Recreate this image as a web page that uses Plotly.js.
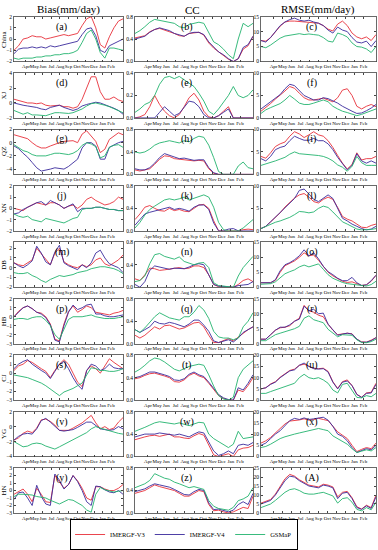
<!DOCTYPE html>
<html><head><meta charset="utf-8">
<script src="https://cdn.plot.ly/plotly-3.0.1.min.js"></script>
<style>html,body{margin:0;padding:0;background:#fff}#chart{width:378px;height:550px}</style>
</head><body><div id="chart"></div>
<script>
const months = ['Apr','May','Jun','Jul','Aug','Sep','Oct','Nov','Dec','Jan','Feb'];
const regions = ['China','XJ','QZ','XN','DB','HB','CJ','YG','HN'];
const metricTitles = ['Bias(mm/day)','CC','RMSE(mm/day)'];
const panelLetters = ['a','b','c','d','e','f','g','h','i','j','k','l','m','n','o','p','q','r','s','t','u','v','w','x','y','z','A'];
const seriesNames = ['IMERGF-V3','IMERGF-V4','GSMaP'];

// ---- Bias (mm/day) ----
const bias_China_V3 = [-1.0,-0.6,0.0,0.1,0.3,0.2,0.2,0.0,0.1,0.2,0.3,0.4,0.3,0.4,0.5,1.2,1.8,2.0,1.0,-0.5,-0.8,0.2,1.0,1.6,1.8];
const bias_China_V4 = [-1.3,-0.9,-0.8,-0.8,-0.7,-0.8,-0.7,-0.8,-0.6,-0.7,-0.6,-0.5,-0.4,-0.3,-0.2,0.4,0.9,1.0,0.3,-1.0,-1.2,-0.6,-0.4,-0.2,0.0];
const bias_China_GS = [-1.7,-1.8,-1.7,-1.7,-1.7,-1.6,-1.6,-1.5,-1.5,-1.4,-1.4,-1.3,-1.3,-1.2,-1.0,-0.3,0.5,0.8,0.0,-1.2,-1.7,-0.8,-0.8,-0.9,-1.0];
const bias_XJ_V3 = [0.5,0.3,0.2,0.0,0.0,-0.1,0.0,-0.3,-0.4,-0.4,-0.3,-0.5,-0.5,-0.7,-0.5,0.5,2.0,3.5,3.5,1.5,0.5,0.5,0.8,0.4,0.2];
const bias_XJ_V4 = [0.0,-0.2,-0.3,-0.4,-0.5,-0.6,-0.8,-0.9,-0.6,-0.4,-0.3,-0.6,-0.8,-1.0,-0.8,-0.4,-0.2,0.0,0.1,0.0,-0.2,-0.4,-0.7,-1.0,-1.5];
const bias_XJ_GS = [-1.0,-1.3,-1.5,-1.3,-1.6,-1.6,-1.7,-1.7,-1.5,-1.3,-1.3,-1.4,-1.4,-1.3,-1.1,-0.8,-0.4,-0.1,0.0,-0.1,-0.3,-0.5,-0.8,-1.0,-1.3];
const bias_QZ_V3 = [1.2,1.0,0.9,0.6,0.0,-0.5,-0.8,-0.8,-0.5,-0.2,0.0,0.2,0.3,0.3,0.0,1.3,1.8,1.0,0.2,-1.5,-1.0,0.5,1.0,1.5,1.2];
const bias_QZ_V4 = [-0.5,-0.9,-1.6,-2.2,-3.0,-3.8,-4.3,-4.2,-4.0,-3.8,-3.9,-4.0,-3.6,-3.0,-2.5,-0.8,0.0,0.0,-0.5,-2.5,-2.5,-0.7,-0.3,0.0,0.2];
const bias_QZ_GS = [-0.3,-0.8,-1.2,-1.4,-1.8,-2.0,-2.0,-2.0,-1.8,-1.6,-1.6,-1.7,-1.8,-1.6,-1.2,-0.4,0.0,-0.2,-0.6,-2.3,-2.0,-0.7,-0.4,-0.3,-0.7];
const bias_XN_V3 = [0.0,-0.1,-0.2,0.1,0.3,0.5,0.4,0.3,0.5,0.5,0.3,0.0,0.2,0.3,0.0,0.3,0.8,1.0,0.7,0.5,0.3,0.4,0.6,1.0,0.8];
const bias_XN_V4 = [-0.5,-0.4,-0.1,0.1,0.3,0.5,0.6,0.3,0.7,0.5,0.3,0.0,0.2,0.4,-0.3,0.0,0.0,0.0,0.1,0.1,0.0,-0.1,-0.1,-0.2,-0.2];
const bias_XN_GS = [-0.5,-0.7,-0.8,-0.7,-1.0,-1.1,-1.2,-0.9,-1.0,-1.1,-1.2,-1.3,-1.1,-0.9,-0.8,-0.1,0.0,0.0,0.1,0.1,0.0,-0.1,-0.1,-0.2,-0.2];
const bias_DB_V3 = [0.5,0.3,0.2,0.5,0.8,2.0,1.4,0.8,0.3,1.5,2.0,0.6,0.3,0.1,0.0,0.3,0.1,0.3,0.8,1.0,0.4,0.2,0.5,0.8,1.3];
const bias_DB_V4 = [0.5,0.2,0.0,0.3,0.7,2.2,1.5,0.6,0.3,1.6,2.3,0.5,0.2,0.0,-0.2,0.3,0.0,0.5,1.5,1.8,1.0,0.4,0.2,0.0,-0.5];
const bias_DB_GS = [-0.5,-0.6,-0.6,-0.5,-0.8,-1.0,-1.3,-1.5,-1.2,-1.0,-0.8,-0.9,-0.8,-0.7,-0.5,-0.4,-0.3,-0.1,0.0,0.1,0.1,0.0,-0.1,-0.3,-0.6];
const bias_HB_V3 = [0.0,0.6,1.0,1.2,0.9,0.5,0.4,0.0,-0.8,-2.5,-2.7,-0.8,0.6,1.2,0.5,0.8,1.2,1.0,0.5,0.4,0.3,0.2,0.4,0.5,0.7];
const bias_HB_V4 = [0.0,0.5,1.0,1.2,0.9,0.5,0.3,-0.1,-0.9,-2.6,-2.8,-1.0,0.5,1.3,0.8,1.0,1.3,1.4,0.3,0.3,0.1,0.0,0.0,0.1,0.2];
const bias_HB_GS = [-0.3,-0.2,-0.2,-0.3,-0.1,0.0,0.0,-0.4,-1.0,-2.0,-2.5,-1.3,-0.3,0.0,0.0,0.0,0.1,0.2,0.0,-0.1,-0.2,-0.2,-0.2,-0.1,0.0];
const bias_CJ_V3 = [0.3,0.8,1.0,1.4,1.2,0.8,0.5,0.2,-0.5,0.3,1.0,1.5,1.0,0.0,-1.0,-1.5,0.3,0.8,0.5,0.0,0.8,1.6,1.2,0.8,0.5];
const bias_CJ_V4 = [0.5,1.0,1.3,1.5,1.0,0.6,0.3,0.0,-0.6,0.2,1.0,1.3,0.5,-0.5,-1.3,-1.8,0.3,1.0,0.8,0.3,0.5,1.0,0.6,0.5,0.5];
const bias_CJ_GS = [-0.2,-0.3,-0.4,-0.5,-0.7,-0.9,-1.1,-1.4,-1.8,-2.2,-2.5,-2.1,-1.9,-1.7,-1.4,-1.1,-0.2,0.6,0.5,0.3,0.3,0.2,0.2,0.3,0.5];
const bias_YG_V3 = [-1.8,-1.5,-0.9,-0.6,-0.8,-0.2,0.9,1.0,0.7,0.2,-0.5,-0.5,-0.5,-0.2,0.1,0.5,1.0,1.5,0.5,-0.3,0.0,-0.4,-0.2,0.6,1.2];
const bias_YG_V4 = [-1.8,-1.3,-1.0,-0.9,-1.0,-0.3,0.8,1.1,0.6,0.1,-0.5,-0.6,-0.5,-0.4,-0.1,0.2,0.6,0.6,0.1,-0.3,-0.4,-0.5,-0.4,0.0,-0.3];
const bias_YG_GS = [-2.0,-2.4,-2.7,-2.6,-2.3,-2.2,-2.3,-2.6,-2.8,-3.0,-2.7,-2.4,-2.1,-1.8,-1.5,-1.2,-0.8,-0.3,0.0,-0.2,-0.4,-0.5,-0.7,-0.9,-1.0];
const bias_HN_V3 = [-0.5,-0.1,0.2,-0.5,-1.5,0.3,-0.5,-1.5,-1.6,2.0,1.2,0.3,0.8,2.0,1.3,0.3,-1.0,-1.3,0.5,0.5,0.2,0.0,0.0,0.3,0.8];
const bias_HN_V4 = [-1.2,-0.3,-0.2,-1.0,-2.0,0.7,-0.8,-1.8,-2.0,2.2,1.4,0.2,0.8,2.0,1.2,0.0,-1.5,-2.0,0.6,0.5,0.1,-0.2,-0.3,0.0,-0.5];
const bias_HN_GS = [-0.8,-0.5,-0.5,-0.5,-0.6,-0.8,-0.9,-1.0,-1.3,-1.6,-1.8,-1.5,-1.2,-1.3,-1.6,-2.0,-2.6,-2.9,-0.5,0.4,0.1,0.0,-0.2,-0.1,0.0];

// ---- CC ----
const cc_China_V3 = [0.42,0.44,0.46,0.53,0.57,0.59,0.56,0.54,0.5,0.46,0.45,0.5,0.51,0.52,0.47,0.33,0.24,0.17,0.1,0.04,0.0,0.05,0.22,0.28,0.45];
const cc_China_V4 = [0.4,0.43,0.45,0.52,0.57,0.6,0.57,0.55,0.5,0.47,0.45,0.5,0.52,0.52,0.48,0.35,0.25,0.17,0.12,0.05,0.0,0.05,0.25,0.3,0.45];
const cc_China_GS = [0.5,0.55,0.62,0.7,0.75,0.73,0.72,0.7,0.68,0.62,0.6,0.66,0.68,0.7,0.68,0.5,0.35,0.3,0.22,0.12,0.05,0.4,0.68,0.62,0.68];
const cc_XJ_V3 = [0.0,0.01,0.03,0.1,0.2,0.12,0.06,0.02,0.0,0.03,0.1,0.18,0.22,0.16,0.06,0.01,0.0,0.02,0.06,0.1,0.0,0.0,0.0,0.0,0.0];
const cc_XJ_V4 = [0.0,0.0,0.0,0.0,0.0,0.05,0.1,0.06,0.02,0.04,0.1,0.15,0.14,0.1,0.03,0.0,0.0,0.02,0.05,0.08,0.0,0.0,0.0,0.0,0.0];
const cc_XJ_GS = [0.05,0.08,0.12,0.14,0.2,0.3,0.36,0.37,0.35,0.37,0.34,0.31,0.28,0.22,0.15,0.06,0.03,0.08,0.14,0.2,0.28,0.2,0.18,0.2,0.25];
const cc_QZ_V3 = [0.08,0.06,0.08,0.1,0.18,0.27,0.33,0.32,0.28,0.27,0.27,0.25,0.24,0.25,0.24,0.1,0.02,0.0,0.0,0.0,0.0,0.0,0.0,0.0,0.0];
const cc_QZ_V4 = [0.1,0.08,0.08,0.12,0.2,0.3,0.37,0.34,0.3,0.28,0.29,0.27,0.25,0.26,0.26,0.12,0.03,0.0,0.0,0.0,0.0,0.0,0.0,0.0,0.0];
const cc_QZ_GS = [0.4,0.38,0.4,0.45,0.52,0.56,0.58,0.6,0.58,0.56,0.6,0.58,0.64,0.68,0.66,0.52,0.3,0.05,0.0,0.0,0.0,0.15,0.22,0.12,0.1];
const cc_XN_V3 = [0.2,0.3,0.42,0.45,0.4,0.36,0.35,0.4,0.36,0.38,0.35,0.34,0.4,0.46,0.47,0.4,0.18,0.0,0.0,0.0,0.0,0.0,0.02,0.03,0.02];
const cc_XN_V4 = [0.1,0.2,0.3,0.33,0.35,0.38,0.4,0.42,0.38,0.4,0.38,0.35,0.42,0.46,0.46,0.38,0.14,0.0,0.0,0.03,0.04,0.0,0.0,0.0,0.0];
const cc_XN_GS = [0.05,0.15,0.28,0.38,0.44,0.5,0.55,0.57,0.55,0.57,0.6,0.55,0.58,0.6,0.64,0.6,0.42,0.15,0.02,0.0,0.0,0.0,0.05,0.12,0.2];
const cc_DB_V3 = [0.15,0.12,0.22,0.34,0.33,0.3,0.31,0.32,0.33,0.35,0.33,0.34,0.38,0.38,0.35,0.22,0.05,0.01,0.0,0.0,0.0,0.05,0.12,0.15,0.1];
const cc_DB_V4 = [0.05,0.0,0.1,0.3,0.38,0.36,0.34,0.32,0.34,0.34,0.33,0.36,0.4,0.42,0.4,0.22,0.05,0.02,0.02,0.01,0.0,0.03,0.04,0.05,0.1];
const cc_DB_GS = [0.1,0.12,0.2,0.42,0.58,0.6,0.55,0.52,0.5,0.54,0.46,0.43,0.4,0.43,0.44,0.35,0.08,0.03,0.02,0.01,0.0,0.2,0.35,0.45,0.55];
const cc_HB_V3 = [0.15,0.1,0.15,0.22,0.3,0.26,0.32,0.33,0.3,0.26,0.28,0.32,0.37,0.38,0.3,0.15,0.02,0.02,0.05,0.09,0.05,0.12,0.18,0.25,0.3];
const cc_HB_V4 = [0.25,0.2,0.25,0.3,0.4,0.36,0.35,0.38,0.36,0.33,0.3,0.35,0.42,0.42,0.33,0.22,0.05,0.02,0.04,0.07,0.03,0.1,0.2,0.25,0.3];
const cc_HB_GS = [0.25,0.2,0.28,0.38,0.48,0.55,0.5,0.46,0.44,0.42,0.48,0.48,0.56,0.68,0.6,0.45,0.22,0.12,0.1,0.1,0.07,0.1,0.3,0.4,0.55];
const cc_CJ_V3 = [0.38,0.4,0.44,0.47,0.48,0.46,0.43,0.4,0.33,0.32,0.36,0.44,0.48,0.43,0.4,0.3,0.18,0.08,0.03,0.0,0.0,0.18,0.15,0.26,0.4];
const cc_CJ_V4 = [0.4,0.42,0.46,0.5,0.5,0.48,0.45,0.42,0.36,0.35,0.38,0.46,0.5,0.45,0.42,0.32,0.2,0.1,0.04,0.01,0.0,0.22,0.18,0.3,0.45];
const cc_CJ_GS = [0.5,0.55,0.62,0.7,0.75,0.73,0.68,0.62,0.55,0.52,0.56,0.6,0.62,0.64,0.62,0.45,0.25,0.08,0.02,0.0,0.05,0.4,0.55,0.62,0.7];
const cc_YG_V3 = [0.3,0.33,0.35,0.37,0.38,0.36,0.38,0.4,0.35,0.35,0.33,0.32,0.37,0.41,0.38,0.2,0.03,0.0,0.02,0.05,0.0,0.12,0.15,0.16,0.2];
const cc_YG_V4 = [0.35,0.37,0.4,0.4,0.4,0.42,0.41,0.4,0.38,0.4,0.38,0.35,0.4,0.44,0.42,0.27,0.1,0.02,0.05,0.1,0.05,0.2,0.22,0.2,0.25];
const cc_YG_GS = [0.45,0.48,0.52,0.56,0.6,0.62,0.61,0.6,0.58,0.6,0.58,0.55,0.58,0.61,0.6,0.4,0.32,0.27,0.22,0.16,0.22,0.45,0.32,0.33,0.35];
const cc_HN_V3 = [0.35,0.37,0.4,0.45,0.5,0.47,0.45,0.43,0.4,0.35,0.3,0.3,0.35,0.4,0.38,0.15,0.04,0.05,0.02,0.0,0.02,0.06,0.1,0.08,0.3];
const cc_HN_V4 = [0.38,0.4,0.43,0.48,0.52,0.5,0.48,0.46,0.42,0.38,0.33,0.32,0.38,0.42,0.4,0.18,0.06,0.07,0.04,0.02,0.05,0.15,0.2,0.15,0.35];
const cc_HN_GS = [0.45,0.48,0.52,0.58,0.7,0.66,0.62,0.6,0.55,0.52,0.48,0.45,0.47,0.45,0.42,0.22,0.12,0.08,0.06,0.05,0.1,0.22,0.25,0.3,0.45];

// ---- RMSE (mm/day) ----
const rmse_China_V3 = [7.0,6.8,8.0,9.8,11.8,13.2,13.5,13.5,13.4,13.2,13.0,13.0,12.8,12.0,10.8,10.2,12.5,13.5,12.0,9.5,8.2,7.6,8.2,7.0,9.0];
const rmse_China_V4 = [7.0,6.5,8.0,10.0,12.0,13.2,14.0,14.5,13.8,13.5,13.8,13.2,12.8,12.0,10.5,9.5,11.5,10.5,10.0,8.0,6.5,6.2,6.8,5.0,7.0];
const rmse_China_GS = [5.0,4.6,5.5,6.8,7.8,8.5,8.8,9.2,9.3,9.0,9.2,9.0,8.8,8.0,6.8,6.5,9.5,9.0,8.2,6.2,5.0,4.8,4.2,3.0,5.0];
const rmse_XJ_V3 = [1.5,2.3,3.2,4.2,5.0,6.0,7.0,6.6,5.5,4.5,4.0,4.0,4.2,4.4,4.0,3.6,4.5,6.2,6.5,5.0,2.6,2.0,2.6,3.0,2.5];
const rmse_XJ_V4 = [2.0,2.8,3.5,4.3,5.2,6.5,7.5,7.2,6.0,5.0,4.5,4.0,4.0,4.5,4.3,3.8,3.3,2.6,2.0,1.5,1.0,1.1,1.6,2.2,3.0];
const rmse_XJ_GS = [1.0,1.8,2.3,2.7,3.2,4.0,5.0,4.2,3.3,3.0,3.0,3.3,3.6,4.0,3.6,2.6,2.0,1.5,1.2,0.9,0.5,0.8,1.2,1.6,2.0];
const rmse_QZ_V3 = [4.0,3.6,4.8,6.2,6.8,7.2,8.5,9.5,9.0,8.2,8.8,9.5,8.8,8.5,7.5,6.0,4.2,2.5,1.2,2.2,4.8,3.2,3.5,3.5,4.0];
const rmse_QZ_V4 = [3.5,3.0,4.0,5.5,6.0,6.3,7.5,8.5,8.0,7.6,7.6,8.0,7.5,7.5,6.8,5.5,3.8,2.3,1.0,2.0,4.6,3.0,2.5,3.0,2.5];
const rmse_QZ_GS = [2.0,2.3,2.7,3.0,3.4,3.8,4.5,5.0,4.6,4.5,4.5,4.4,4.2,4.0,3.6,3.0,2.1,1.6,0.7,1.8,4.0,2.6,2.0,2.0,2.0];
const rmse_XN_V3 = [0.5,1.0,2.0,3.0,4.0,5.3,6.3,7.3,8.0,8.3,7.5,6.5,6.2,7.0,7.5,7.0,5.2,3.2,2.6,2.2,1.5,0.8,0.7,1.2,1.5];
const rmse_XN_V4 = [0.5,1.0,2.0,3.0,4.0,5.0,6.0,7.2,9.0,9.3,8.2,7.0,6.5,7.2,8.0,7.2,5.0,2.8,2.2,1.5,1.0,0.5,0.2,0.4,1.0];
const rmse_XN_GS = [0.5,1.0,1.5,1.9,2.2,2.6,3.0,3.6,4.3,4.2,4.0,4.2,5.0,5.5,5.2,4.2,3.0,2.0,1.5,1.0,0.4,0.2,0.2,0.3,0.5];
const rmse_DB_V3 = [1.5,1.5,1.5,2.3,5.0,7.2,8.0,8.8,10.0,11.5,10.5,10.8,9.0,7.0,5.0,3.8,3.0,2.0,1.6,1.8,1.2,0.6,0.8,2.0,4.0];
const rmse_DB_V4 = [1.5,1.5,1.5,2.5,5.5,7.5,8.2,9.2,10.5,12.5,10.5,11.5,9.5,7.0,5.2,4.2,3.0,2.2,2.2,3.3,1.5,0.6,0.8,2.2,4.0];
const rmse_DB_GS = [1.0,1.0,1.2,1.8,3.0,4.5,5.2,5.8,6.8,7.4,6.8,7.3,7.8,6.0,4.2,3.0,2.2,1.6,1.2,1.0,0.7,0.4,0.4,0.9,2.0];
const rmse_HB_V3 = [1.5,1.5,3.0,4.5,5.3,5.5,6.0,7.5,8.5,12.8,11.0,10.5,9.5,9.0,6.5,4.5,3.0,3.3,3.5,3.3,1.5,0.6,0.5,1.2,2.0];
const rmse_HB_V4 = [1.5,1.5,3.0,4.5,5.5,5.5,6.3,7.5,8.2,12.5,11.0,11.5,10.0,10.2,6.5,4.5,2.8,3.2,3.5,3.2,1.5,0.5,0.5,1.0,2.0];
const rmse_HB_GS = [1.0,1.0,2.0,3.0,3.5,4.0,4.5,5.0,5.8,8.5,9.3,8.0,7.5,7.0,4.8,3.5,2.3,3.0,3.0,2.8,1.3,0.4,0.3,0.7,1.5];
const rmse_CJ_V3 = [5.0,5.5,7.2,8.2,10.2,11.8,13.2,13.8,15.5,16.0,15.2,14.2,14.0,14.2,12.8,8.2,5.2,8.2,9.0,6.5,2.6,1.3,3.2,3.5,7.5];
const rmse_CJ_V4 = [5.0,5.5,7.0,8.0,10.0,11.5,13.0,13.5,15.5,16.5,15.0,14.0,13.8,14.0,12.5,8.0,5.0,8.0,8.5,6.5,2.5,1.2,3.0,3.2,7.0];
const rmse_CJ_GS = [3.0,3.0,3.8,4.5,5.5,6.0,6.8,7.5,10.0,11.5,10.0,9.5,10.0,9.0,7.5,4.5,3.2,7.0,7.5,4.5,1.2,1.0,2.0,1.5,3.0];
const rmse_YG_V3 = [6.0,7.0,8.5,10.5,12.5,14.5,15.8,16.0,16.3,16.8,16.2,16.5,17.0,16.5,16.0,13.5,11.0,9.5,8.0,5.0,2.2,3.2,4.0,3.5,6.0];
const rmse_YG_V4 = [5.0,6.0,8.0,10.0,11.5,14.0,16.0,17.0,16.5,17.2,16.5,16.8,17.0,17.5,16.2,13.5,10.0,9.0,7.0,4.0,1.8,2.8,3.5,3.0,5.0];
const rmse_YG_GS = [4.0,4.5,5.5,6.8,8.0,8.8,9.5,10.0,10.5,11.0,11.3,12.0,12.5,12.0,11.5,9.2,8.0,7.0,5.5,3.5,1.8,2.4,3.0,2.5,4.0];
const rmse_HN_V3 = [5.5,6.5,7.5,10.5,15.0,19.0,21.5,20.5,18.5,17.0,15.5,15.0,14.5,16.0,15.5,14.5,9.0,11.5,12.0,8.5,3.5,2.2,4.3,3.0,10.0];
const rmse_HN_V4 = [5.0,6.0,7.0,10.0,14.0,18.0,20.5,20.0,18.0,16.5,15.0,14.5,14.0,15.5,15.0,14.0,8.0,11.0,11.5,8.0,3.0,2.0,4.0,2.5,9.0];
const rmse_HN_GS = [3.0,3.8,5.0,7.0,9.5,11.5,13.0,13.5,12.5,11.0,10.5,10.5,11.0,11.5,10.5,9.5,5.5,8.0,8.5,6.0,2.0,1.2,3.0,1.8,6.0];

// panel grid (rows = regions, cols = metrics)
const panels = [
  [[bias_China_V3,bias_China_V4,bias_China_GS],[cc_China_V3,cc_China_V4,cc_China_GS],[rmse_China_V3,rmse_China_V4,rmse_China_GS]],
  [[bias_XJ_V3,bias_XJ_V4,bias_XJ_GS],[cc_XJ_V3,cc_XJ_V4,cc_XJ_GS],[rmse_XJ_V3,rmse_XJ_V4,rmse_XJ_GS]],
  [[bias_QZ_V3,bias_QZ_V4,bias_QZ_GS],[cc_QZ_V3,cc_QZ_V4,cc_QZ_GS],[rmse_QZ_V3,rmse_QZ_V4,rmse_QZ_GS]],
  [[bias_XN_V3,bias_XN_V4,bias_XN_GS],[cc_XN_V3,cc_XN_V4,cc_XN_GS],[rmse_XN_V3,rmse_XN_V4,rmse_XN_GS]],
  [[bias_DB_V3,bias_DB_V4,bias_DB_GS],[cc_DB_V3,cc_DB_V4,cc_DB_GS],[rmse_DB_V3,rmse_DB_V4,rmse_DB_GS]],
  [[bias_HB_V3,bias_HB_V4,bias_HB_GS],[cc_HB_V3,cc_HB_V4,cc_HB_GS],[rmse_HB_V3,rmse_HB_V4,rmse_HB_GS]],
  [[bias_CJ_V3,bias_CJ_V4,bias_CJ_GS],[cc_CJ_V3,cc_CJ_V4,cc_CJ_GS],[rmse_CJ_V3,rmse_CJ_V4,rmse_CJ_GS]],
  [[bias_YG_V3,bias_YG_V4,bias_YG_GS],[cc_YG_V3,cc_YG_V4,cc_YG_GS],[rmse_YG_V3,rmse_YG_V4,rmse_YG_GS]],
  [[bias_HN_V3,bias_HN_V4,bias_HN_GS],[cc_HN_V3,cc_HN_V4,cc_HN_GS],[rmse_HN_V3,rmse_HN_V4,rmse_HN_GS]]
];

// ---- styling / layout (not data) ----
const colors = ['#e8303a','#3a2a9c','#22b36e'];
const W = 378, H = 550;
const colPx = [[14,123],[135,253],[261,376]];
const rowTop0 = 17, rowPitch = 57.8, rowH = 46;
const yCfg = [
  [[[-2,2],1],[[0,0.8],0.4],[[0,15],5]],
  [[[-2,4],2],[[0,0.4],0.2],[[0,10],5]],
  [[[-4.8,2],2],[[0,0.8],0.4],[[0,10],5]],
  [[[-2,2],1],[[0,0.8],0.4],[[0,10],5]],
  [[[-2,2.6],1],[[0,0.8],0.4],[[0,15],5]],
  [[[-3,2],1],[[0,0.8],0.4],[[0,15],5]],
  [[[-3,2],1],[[0,0.8],0.4],[[0,20],5]],
  [[[-4,2],2],[[0,0.8],0.4],[[0,20],5]],
  [[[-3,3],1],[[0,0.8],0.4],[[0,25],5]]
];
const font = 'Liberation Serif, Times New Roman, serif';
const xRange = [-0.4, 12.4];
const nPts = bias_China_V3.length;
const xs = Array.from({length:nPts}, (_,i) => xRange[0] + i*(xRange[1]-xRange[0])/(nPts-1));
const tickv = months.map((_,i) => i+1);

const data = [];
const layout = {
  width: W, height: H, margin:{l:0,r:0,t:0,b:0},
  paper_bgcolor:'#fff', plot_bgcolor:'#fff',
  font:{family:font, size:5.5, color:'#000'},
  showlegend:true,
  legend:{orientation:'h', x:0.487, xanchor:'center', y:1-532/H, yanchor:'top',
    bordercolor:'#000', borderwidth:1, font:{family:font,size:6.5,color:'#000'},
    itemwidth:30, tracegroupgap:0, bgcolor:'#fff', itemclick:false},
  annotations:[]
};
for (let r=0;r<9;r++){
  for (let c=0;c<3;c++){
    const k = r*3+c+1;
    const xa = 'xaxis'+(k===1?'':k), ya = 'yaxis'+(k===1?'':k);
    const top = rowTop0 + r*rowPitch, bot = top + rowH;
    const [x0,x1] = colPx[c];
    const [yr, dt] = yCfg[r][c];
    layout[xa] = {domain:[x0/W, x1/W], range:xRange, anchor:'y'+(k===1?'':k),
      tickvals:tickv, ticktext:months, tickangle:0, ticks:'inside', ticklen:2,
      showline:true, mirror:'ticks', linecolor:'#444', linewidth:0.8, showgrid:false,
      zeroline:false, tickfont:{family:font,size:5}, fixedrange:true};
    layout[ya] = {domain:[1-bot/H, 1-top/H], range:yr, dtick:dt, anchor:'x'+(k===1?'':k),
      ticks:'inside', ticklen:2, showline:true, mirror:'ticks', linecolor:'#444', linewidth:0.8,
      showgrid:false, zeroline:false, tickfont:{family:font,size:5.5},
      tickformat: c===1 ? '.1f' : '', fixedrange:true};
    const ser = panels[r][c];
    for (let s=0;s<3;s++){
      data.push({x:xs, y:ser[s], type:'scatter', mode:'lines', name:seriesNames[s],
        legendgroup:seriesNames[s], showlegend:(k===1),
        line:{color:colors[s], width:0.9}, xaxis:'x'+(k===1?'':k), yaxis:'y'+(k===1?'':k),
        hoverinfo:'skip'});
    }
    layout.annotations.push({text:'('+panelLetters[k-1]+')', xref:'paper', yref:'paper',
      x:(x0+0.44*(x1-x0))/W, y:1-(top+2)/H, xanchor:'center', yanchor:'top', showarrow:false,
      font:{family:font,size:10,color:'#000'}});
  }
  const top = rowTop0 + r*rowPitch;
  layout.annotations.push({text:regions[r], xref:'paper', yref:'paper', x:4/W, y:1-(top+rowH/2)/H,
    xanchor:'center', yanchor:'middle', textangle:-90, showarrow:false,
    font:{family:font,size:7,color:'#000'}});
}
const titleX = [68,192,318];
metricTitles.forEach((t,i)=>layout.annotations.push({text:t, xref:'paper', yref:'paper',
  x:titleX[i]/W, y:1-10/H, xanchor:'center', yanchor:'middle', showarrow:false,
  font:{family:font,size:11,color:'#000'}}));

Plotly.newPlot('chart', data, layout, {displayModeBar:false, staticPlot:true});
</script>
</body></html>
